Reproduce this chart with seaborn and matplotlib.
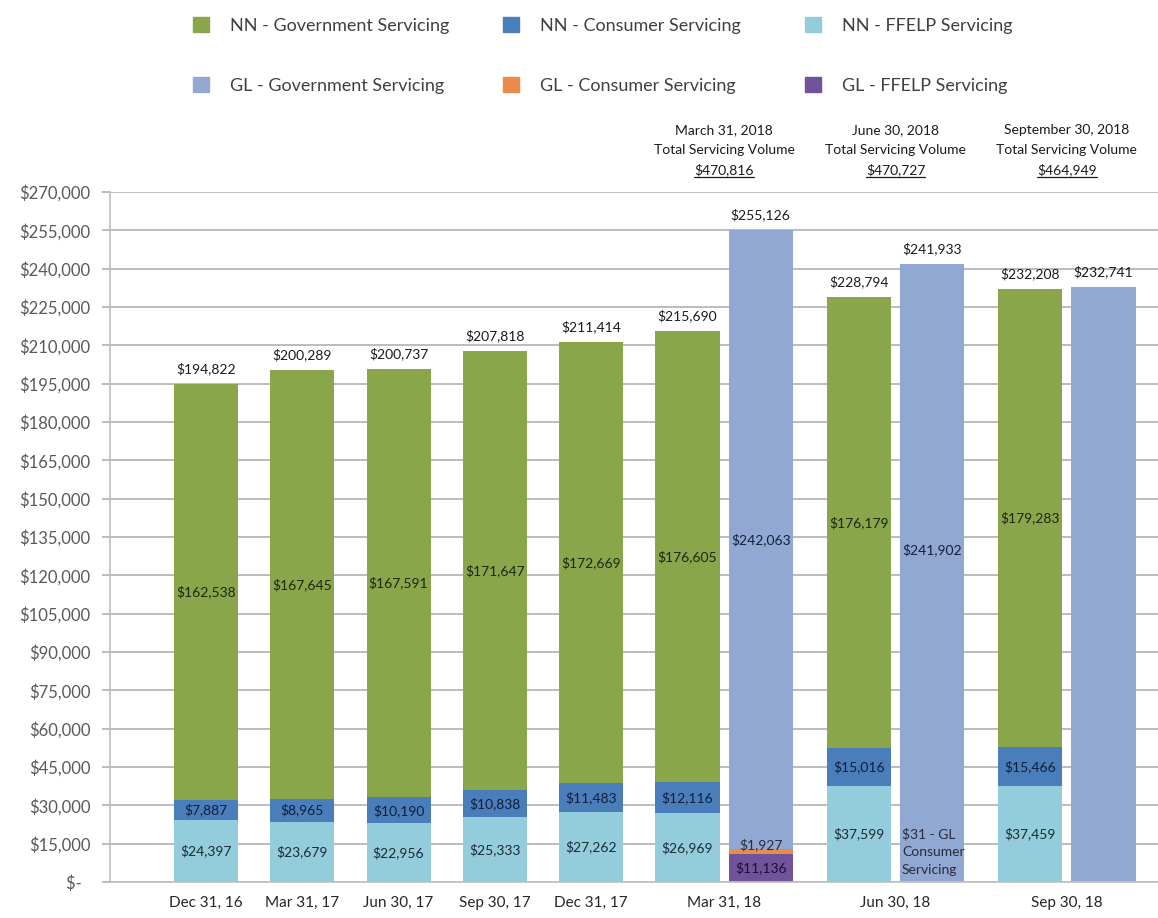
import numpy as np
import pandas as pd
import matplotlib
matplotlib.use("Agg")
import matplotlib.pyplot as plt
from matplotlib.patches import Patch
from matplotlib.lines import Line2D
from matplotlib.ticker import FuncFormatter, MultipleLocator
import matplotlib.transforms as mtransforms
import seaborn as sns

# ---------------------------------------------------------------- data
categories = ["Dec 31, 16", "Mar 31, 17", "Jun 30, 17", "Sep 30, 17",
              "Dec 31, 17", "Mar 31, 18", "Jun 30, 18", "Sep 30, 18"]
nn_ffelp = [24397, 23679, 22956, 25333, 27262, 26969, 37599, 37459]
nn_consumer = [7887, 8965, 10190, 10838, 11483, 12116, 15016, 15466]
nn_government = [162538, 167645, 167591, 171647, 172669, 176605, 176179, 179283]

gl_categories = ["Mar 31, 18", "Jun 30, 18", "Sep 30, 18"]
gl_ffelp = [11136, 0, 0]
gl_consumer = [1927, 31, 0]
gl_government = [242063, 241902, 232741]

header_dates = ["March 31, 2018", "June 30, 2018", "September 30, 2018"]
gl_consumer_note = "$31 - GL\nConsumer\nServicing"

# ---------------------------------------------------------------- style
sns.set_theme(style="white")
FONT = ["Lato", "DejaVu Sans"]
plt.rcParams["font.family"] = FONT

C_NN_GOV = "#8AA64B"
C_NN_CON = "#4A7EBB"
C_NN_FFELP = "#93CDDC"
C_GL_GOV = "#91A8D2"
C_GL_CON = "#EB8A4A"
C_GL_FFELP = "#71539B"
GRID = "#A9A9A9"

# bar layout: single-bar quarters one slot apart, then NN/GL pairs
BAR_W = 0.665
PAIR_OFFSET = 0.76
GROUP_STEP = 1.78
n_single = len(categories) - len(gl_categories)
nn_pos = [float(i) for i in range(n_single)]
gl_pos = []
for k in range(len(gl_categories)):
    start = n_single + k * GROUP_STEP
    nn_pos.append(start)
    gl_pos.append(start + PAIR_OFFSET)
tick_pos = nn_pos[:n_single] + [p + PAIR_OFFSET / 2 for p in nn_pos[n_single:]]

nn = pd.DataFrame({"pos": nn_pos, "ffelp": nn_ffelp,
                   "consumer": nn_consumer, "government": nn_government})
gl = pd.DataFrame({"pos": gl_pos, "ffelp": gl_ffelp,
                   "consumer": gl_consumer, "government": gl_government})
for df in (nn, gl):
    df["total"] = df[["ffelp", "consumer", "government"]].sum(axis=1)

fig = plt.figure(figsize=(11.58, 9.18), dpi=100)
ax = fig.add_axes([0.095, 0.0392, 0.905, 0.7516])


def stacked(df, layers):
    """Draw stacked segments with seaborn, returning segment bottoms."""
    df = df.sort_values("pos").reset_index(drop=True)
    native = np.min(np.diff(df["pos"])) if len(df) > 1 else 1.0
    bottom = np.zeros(len(df))
    bottoms = {}
    for col, color in layers:
        sns.barplot(data=df, x="pos", y=col, native_scale=True, ax=ax,
                    color=color, saturation=1, errorbar=None,
                    width=BAR_W / native, bottom=bottom.copy(), linewidth=0)
        bottoms[col] = bottom.copy()
        bottom = bottom + df[col].to_numpy()
    return df, bottoms


nn_s, nn_b = stacked(nn, [("ffelp", C_NN_FFELP), ("consumer", C_NN_CON),
                          ("government", C_NN_GOV)])
gl_s, gl_b = stacked(gl, [("ffelp", C_GL_FFELP), ("consumer", C_GL_CON),
                          ("government", C_GL_GOV)])

# ---------------------------------------------------------------- axes
ax.set_ylim(0, 270000)
ax.set_xlim(-0.997, 9.886)
ax.yaxis.set_major_locator(MultipleLocator(15000))
ax.yaxis.set_major_formatter(FuncFormatter(
    lambda v, _: "$-  " if v == 0 else f"${v:,.0f}"))
ax.set_xticks(tick_pos)
ax.set_xticklabels(categories)
ax.set_xlabel("")
ax.set_ylabel("")
ax.grid(axis="y", color=GRID, linewidth=1.1)
ax.set_axisbelow(True)
for side in ("top", "right"):
    ax.spines[side].set_visible(False)
for side in ("left", "bottom"):
    ax.spines[side].set_color("#BFBFBF")
    ax.spines[side].set_linewidth(1.2)
ax.tick_params(axis="y", length=6, width=1.1, color=GRID, pad=8,
               labelsize=12, labelcolor="#595959", left=True)
ax.tick_params(axis="x", length=0, pad=10, labelsize=11, labelcolor="#262626")

LBL = dict(ha="center", va="center", fontsize=10)

# totals above each bar
for df in (nn_s, gl_s):
    for x, tot in zip(df["pos"], df["total"]):
        ax.annotate(f"${tot:,.0f}", (x, tot), xytext=(0, 11),
                    textcoords="offset points", color="#1A1A1A", **LBL)

# segment labels for the NN stacks
for i, row in nn_s.iterrows():
    for col, colr in (("ffelp", "#1B2A33"), ("consumer", "#0F1E38"),
                      ("government", "#1C2410")):
        mid = nn_b[col][i] + row[col] / 2
        ax.text(row["pos"], mid, f"${row[col]:,.0f}", color=colr, **LBL)

# segment labels for the GL stacks
for i, row in gl_s.iterrows():
    if row["ffelp"] > 0:
        ax.text(row["pos"], row["ffelp"] / 2, f"${row['ffelp']:,.0f}",
                color="#1A1030", **LBL)
    if row["consumer"] > 100:
        top = gl_b["consumer"][i] + row["consumer"]
        ax.annotate(f"${row['consumer']:,.0f}", (row["pos"], top),
                    xytext=(0, 3), textcoords="offset points",
                    color="#2A2A3A", **LBL)
    if row["ffelp"] > 0 or row["consumer"] > 100:
        mid = gl_b["government"][i] + row["government"] / 2
        ax.text(row["pos"], mid, f"${row['government']:,.0f}",
                color="#14213D", **LBL)

# GL government label at June and the note for its tiny consumer segment
jun = gl_s.iloc[1]
ax.text(jun["pos"], gl_b["government"][1] + jun["government"] / 2 + 9000,
        f"${jun['government']:,.0f}", color="#14213D", **LBL)
ax.text(jun["pos"] - BAR_W / 2 + 0.02, 11700, gl_consumer_note, ha="left",
        va="center", fontsize=10, color="#2A2A3A", linespacing=1.6)

# quarter totals above the NN/GL pairs
trans = mtransforms.blended_transform_factory(ax.transData, ax.transAxes)
header_texts = []
for k, date in enumerate(header_dates):
    x = tick_pos[n_single + k]
    grand = nn_s["total"].iloc[n_single + k] + gl_s["total"].iloc[k]
    ax.text(x, 1.0899, date, transform=trans, ha="center", va="center",
            fontsize=10, color="#1A1A1A", clip_on=False)
    ax.text(x, 1.0609, "Total Servicing Volume", transform=trans, ha="center",
            va="center", fontsize=10, color="#1A1A1A", clip_on=False)
    t = ax.text(x, 1.0319, f"${grand:,.0f}", transform=trans, ha="center",
                va="center", fontsize=10, color="#1A1A1A", clip_on=False)
    header_texts.append(t)

# legend: three columns of two entries each
legend_columns = [
    [Patch(color=C_NN_GOV, label="NN - Government Servicing"),
     Patch(color=C_GL_GOV, label="GL - Government Servicing")],
    [Patch(color=C_NN_CON, label="NN - Consumer Servicing"),
     Patch(color=C_GL_CON, label="GL - Consumer Servicing")],
    [Patch(color=C_NN_FFELP, label="NN - FFELP Servicing"),
     Patch(color=C_GL_FFELP, label="GL - FFELP Servicing")],
]
for hs, x0 in zip(legend_columns, (0.1667, 0.4344, 0.6952)):
    fig.legend(handles=hs, ncol=1, loc="upper left",
               bbox_to_anchor=(x0, 0.9815), frameon=False, fontsize=13,
               borderpad=0, borderaxespad=0,
               handlelength=0.9, handleheight=0.9, handletextpad=1.15,
               labelspacing=2.4, labelcolor="#404040")

# underline the grand totals
fig.canvas.draw()
renderer = fig.canvas.get_renderer()
inv = fig.transFigure.inverted()
for t in header_texts:
    bb = t.get_window_extent(renderer)
    (x0, y0), (x1, _) = inv.transform([(bb.x0, bb.y0 - 1), (bb.x1, bb.y0)])
    fig.lines.append(Line2D([x0, x1], [y0, y0], transform=fig.transFigure,
                            color="#1A1A1A", linewidth=0.9))

fig.savefig("out.png", dpi=100)
